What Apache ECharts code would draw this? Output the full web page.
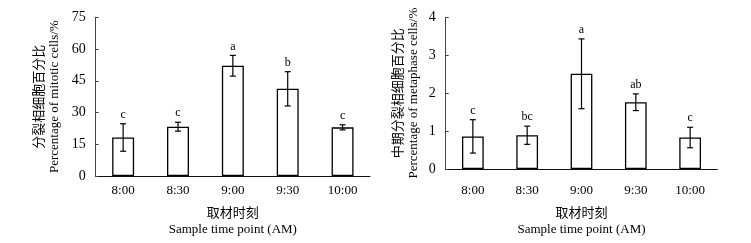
<!DOCTYPE html>
<html>
<head>
<meta charset="utf-8">
<script src="https://cdn.jsdelivr.net/npm/echarts@6/dist/echarts.min.js"></script>
<style>html,body{margin:0;padding:0;background:#fff;}#c{width:751px;height:243px;}</style>
</head>
<body>
<div id="c"></div>
<script>
const categories = ['8:00', '8:30', '9:00', '9:30', '10:00'];
const mitoticMean = [18.2, 23.3, 52.1, 41.2, 23.0];
const mitoticErr = [6.5, 2.1, 4.9, 8.1, 1.2];
const mitoticSig = ['c', 'c', 'a', 'b', 'c'];
const metaMean = [0.86, 0.89, 2.51, 1.76, 0.83];
const metaErr = [0.44, 0.24, 0.92, 0.22, 0.27];
const metaSig = ['c', 'bc', 'a', 'ab', 'c'];
const leftTicks = [0, 15, 30, 45, 60, 75];
const rightTicks = [0, 1, 2, 3, 4];

const FONT = "'Liberation Serif', 'Noto Sans CJK SC', serif";
const chart = echarts.init(document.getElementById('c'), null, {renderer: 'canvas'});

function errItem(params, api) {
  const x = api.value(0), m = api.value(1), e = api.value(2), sig = api.value(3);
  const top = api.coord([x, m + e]);
  const bot = api.coord([x, m - e]);
  const cap = 3;
  const st = {stroke: '#000', lineWidth: 1.2};
  return {
    type: 'group',
    children: [
      {type: 'line', shape: {x1: top[0], y1: top[1], x2: bot[0], y2: bot[1]}, style: st},
      {type: 'line', shape: {x1: top[0] - cap, y1: top[1], x2: top[0] + cap, y2: top[1]}, style: st},
      {type: 'line', shape: {x1: bot[0] - cap, y1: bot[1], x2: bot[0] + cap, y2: bot[1]}, style: st},
      {type: 'text', x: top[0], y: top[1] - 3, style: {text: sig, fill: '#000', font: '12px ' + FONT, textAlign: 'center', textVerticalAlign: 'bottom'}}
    ]
  };
}

function xAxisCfg(gi, margin, gap) {
  return {
    type: 'category', gridIndex: gi, data: categories,
    axisLine: {lineStyle: {color: '#111', width: 1}},
    axisTick: {inside: true, length: 3, lineStyle: {color: '#111'}},
    axisLabel: {color: '#000', fontFamily: FONT, fontSize: 13, margin: margin},
    name: '取材时刻\nSample time point (AM)', nameLocation: 'middle', nameGap: gap,
    nameTextStyle: {color: '#000', fontFamily: FONT, fontSize: 13, lineHeight: 16, verticalAlign: 'top'}
  };
}
function yAxisCfg(gi, ticks, name, gap) {
  return {
    type: 'value', gridIndex: gi, min: ticks[0], max: ticks[ticks.length - 1],
    interval: ticks[1] - ticks[0],
    axisLine: {show: true, lineStyle: {color: '#444', width: 1}},
    axisTick: {show: true, inside: true, length: 3, lineStyle: {color: '#444'}},
    splitLine: {show: false},
    axisLabel: {color: '#000', fontFamily: FONT, fontSize: 14, margin: 10},
    name: name, nameLocation: 'middle', nameRotate: 90, nameGap: gap,
    nameTextStyle: {color: '#000', fontFamily: FONT, fontSize: 13, lineHeight: 15}
  };
}

chart.setOption({
  animation: false,
  backgroundColor: '#fff',
  grid: [
    {left: 95.7, top: 17.3, width: 274.3, height: 162},
    {left: 445.7, top: 17.3, width: 271.6, height: 155}
  ],
  xAxis: [xAxisCfg(0, 8, 30), xAxisCfg(1, 15, 37)],
  yAxis: [
    yAxisCfg(0, leftTicks, '分裂相细胞百分比\nPercentage of mitotic cells/%', 34),
    yAxisCfg(1, rightTicks, '中期分裂相细胞百分比\nPercentage of metaphase cells/%', 25)
  ],
  series: [
    {type: 'bar', xAxisIndex: 0, yAxisIndex: 0, data: mitoticMean, barWidth: '40%',
     itemStyle: {color: '#fff', borderColor: '#000', borderWidth: 1.3}},
    {type: 'custom', xAxisIndex: 0, yAxisIndex: 0, renderItem: errItem,
     data: mitoticMean.map((m, i) => [i, m, mitoticErr[i], mitoticSig[i]]), z: 5},
    {type: 'bar', xAxisIndex: 1, yAxisIndex: 1, data: metaMean, barWidth: '40%',
     itemStyle: {color: '#fff', borderColor: '#000', borderWidth: 1.3}},
    {type: 'custom', xAxisIndex: 1, yAxisIndex: 1, renderItem: errItem,
     data: metaMean.map((m, i) => [i, m, metaErr[i], metaSig[i]]), z: 5}
  ]
});
</script>
</body>
</html>
